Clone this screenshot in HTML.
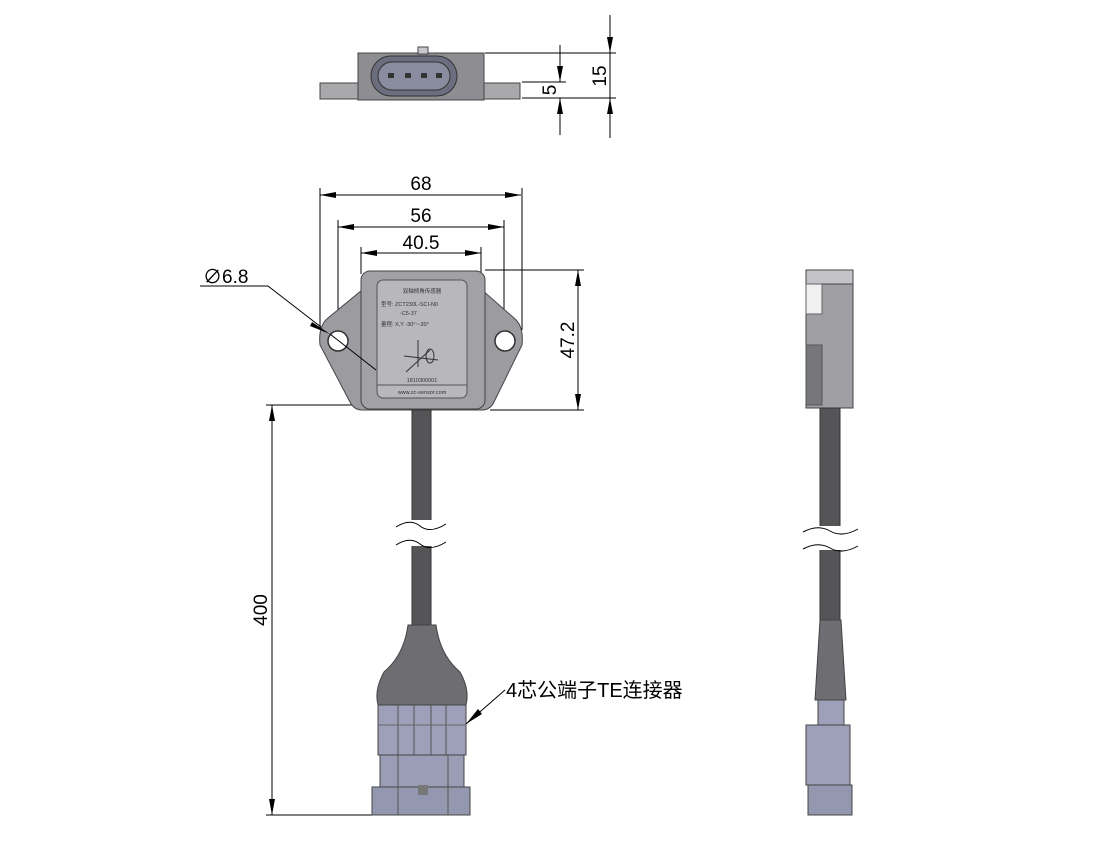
<!DOCTYPE html>
<html><head><meta charset="utf-8"><style>
html,body{margin:0;padding:0;background:#fff;}
svg{display:block;font-family:"Liberation Sans","Noto Sans CJK SC",sans-serif;}
</style></head><body>
<svg width="1100" height="852" viewBox="0 0 1100 852" xmlns="http://www.w3.org/2000/svg">
<defs>
<marker id="b" viewBox="0 0 16 6" refX="16" refY="3" markerWidth="16" markerHeight="6" orient="auto-start-reverse" markerUnits="userSpaceOnUse"><path d="M0,0 L16,3 L0,6 z" fill="#000"/></marker>
</defs>
<g stroke="#000" stroke-width="1" fill="none">
<line x1="485" y1="53" x2="616" y2="53"/>
<line x1="522" y1="98" x2="616" y2="98"/>
<line x1="522" y1="82" x2="566" y2="82"/>
<line x1="610" y1="15" x2="610" y2="53" marker-end="url(#b)"/>
<line x1="610" y1="138" x2="610" y2="98" marker-end="url(#b)"/>
<line x1="610" y1="53" x2="610" y2="98"/>
<line x1="560" y1="45" x2="560" y2="82" marker-end="url(#b)"/>
<line x1="560" y1="135" x2="560" y2="98" marker-end="url(#b)"/>
<line x1="320" y1="188" x2="320" y2="330"/>
<line x1="522" y1="188" x2="522" y2="330"/>
<line x1="338" y1="220" x2="338" y2="325"/>
<line x1="504" y1="220" x2="504" y2="325"/>
<line x1="361" y1="247" x2="361" y2="274"/>
<line x1="481" y1="247" x2="481" y2="274"/>
<line x1="320" y1="195" x2="521" y2="195" marker-start="url(#b)" marker-end="url(#b)"/>
<line x1="338" y1="227" x2="504" y2="227" marker-start="url(#b)" marker-end="url(#b)"/>
<line x1="361" y1="253" x2="481" y2="253" marker-start="url(#b)" marker-end="url(#b)"/>
<line x1="485" y1="270" x2="584" y2="270"/>
<line x1="490" y1="410" x2="584" y2="410"/>
<line x1="578" y1="270" x2="578" y2="410" marker-start="url(#b)" marker-end="url(#b)"/>
<line x1="266" y1="405" x2="360" y2="405"/>
<line x1="266" y1="815" x2="374" y2="815"/>
<line x1="272" y1="405" x2="272" y2="815" marker-start="url(#b)" marker-end="url(#b)"/>
<polyline points="200,286 268,286 330,334"/>
</g>
<rect x="320" y="83" width="200" height="16" fill="#a9a9ab" stroke="#444"/>
<rect x="358" y="53" width="126" height="47" fill="#8e8e92" stroke="#444"/>
<rect x="418" y="47" width="10" height="7" fill="#c8c8cc" stroke="#444"/>
<rect x="371" y="56" width="86" height="40" rx="20" fill="#6c6e80" stroke="#333"/>
<rect x="378" y="62" width="72" height="28" rx="14" fill="#8a8ca0" stroke="#333"/>
<g fill="#333"><rect x="388" y="73" width="6" height="5"/><rect x="405" y="73" width="6" height="5"/><rect x="421" y="73" width="6" height="5"/><rect x="436" y="73" width="6" height="5"/></g>
<path d="M362,290 L328,318 Q318,326 320,345 L350,402 Q354,410 362,410 L482,410 Q490,410 494,402 L522,345 Q524,326 514,318 L482,290 Z" fill="#9b9ba0" stroke="#444"/>
<circle cx="338" cy="341" r="10" fill="#fff" stroke="#333" stroke-width="1.5"/>
<circle cx="505" cy="341" r="10" fill="#fff" stroke="#333" stroke-width="1.5"/>
<rect x="361" y="271" width="124" height="138" rx="9" fill="#a1a1a6" stroke="#444"/>
<rect x="377" y="280" width="90" height="118" rx="6" fill="#b8b8bc" stroke="#555"/>
<line x1="377" y1="385" x2="467" y2="385" stroke="#555"/>
<g font-size="5.5" fill="#333">
<text x="422" y="293" text-anchor="middle">双轴倾角传感器</text>
<text x="381" y="306">型号: ZCT230L-SCI-N0</text>
<text x="400" y="315">-C5-37</text>
<text x="381" y="326">量程: X,Y -30°~-30°</text>
<text x="422" y="382" text-anchor="middle">1810300001</text>
<text x="422" y="394" text-anchor="middle">www.zc-sensor.com</text>
</g>
<g stroke="#333" fill="none" stroke-width="1">
<line x1="418" y1="367" x2="418" y2="340"/><line x1="404" y1="356" x2="438" y2="360"/><line x1="406" y1="372" x2="430" y2="350"/>
<ellipse cx="430" cy="356" rx="4" ry="7"/>
</g>
<line x1="330" y1="334" x2="376" y2="370" stroke="#000"/>
<path d="M312,322 L330,334 L310,326 z" fill="#000"/>
<rect x="412" y="410" width="19" height="218" fill="#555558" stroke="#333"/>
<rect x="404" y="520" width="35" height="26" fill="#fff"/>
<path d="M396,527 Q410,518 420,526 T446,524 M396,545 Q410,536 420,544 T446,542" stroke="#000" fill="none"/>
<path d="M408,625 L436,625 Q440,655 460,672 Q470,690 466,705 L378,705 Q374,690 384,672 Q404,655 408,625 Z" fill="#6e6e72" stroke="#444"/>
<rect x="378" y="705" width="88" height="50" fill="#9da0b8" stroke="#444"/>
<g stroke="#555"><line x1="398" y1="705" x2="398" y2="755"/><line x1="414" y1="705" x2="414" y2="755"/><line x1="431" y1="705" x2="431" y2="755"/><line x1="446" y1="705" x2="446" y2="755"/></g>
<line x1="378" y1="725" x2="466" y2="725" stroke="#666"/>
<rect x="380" y="755" width="84" height="32" fill="#9a9db5" stroke="#444"/>
<rect x="372" y="787" width="98" height="28" fill="#9497b0" stroke="#444"/>
<line x1="398" y1="755" x2="398" y2="815" stroke="#555"/><line x1="448" y1="755" x2="448" y2="815" stroke="#555"/>
<rect x="418" y="785" width="10" height="10" fill="#777"/>
<line x1="505" y1="690" x2="466" y2="724" stroke="#000"/>
<path d="M466,724 L478,709 L482,714 z" fill="#000"/>
<rect x="806" y="270" width="47" height="138" fill="#a0a0a4" stroke="#444"/>
<rect x="806" y="270" width="47" height="14" fill="#c4c4c8" stroke="#444"/>
<rect x="806" y="284" width="16" height="30" fill="#f0f0f0" stroke="#666"/>
<rect x="806" y="345" width="16" height="60" fill="#77777b" stroke="#555"/>
<rect x="820" y="408" width="20" height="212" fill="#555558" stroke="#333"/>
<rect x="812" y="526" width="40" height="24" fill="#fff"/>
<path d="M803,532 Q818,524 830,531 T858,529 M803,549 Q818,541 830,548 T858,546" stroke="#000" fill="none"/>
<path d="M820,620 L841,620 L846,700 L815,700 Z" fill="#6e6e72" stroke="#444"/>
<rect x="818" y="700" width="26" height="25" fill="#9da0b8" stroke="#444"/>
<rect x="806" y="725" width="44" height="60" fill="#9da0b8" stroke="#444"/>
<rect x="808" y="785" width="44" height="30" fill="#9497b0" stroke="#444"/>
<g font-size="19" fill="#000">
<text x="421" y="190" text-anchor="middle">68</text>
<text x="421" y="222" text-anchor="middle">56</text>
<text x="421" y="249" text-anchor="middle">40.5</text>
<text x="203" y="283">∅6.8</text>
<text transform="translate(574,340) rotate(-90)" text-anchor="middle">47.2</text>
<text transform="translate(267,610) rotate(-90)" text-anchor="middle">400</text>
<text transform="translate(606,76) rotate(-90)" text-anchor="middle">15</text>
<text transform="translate(556,90) rotate(-90)" text-anchor="middle">5</text>
<text x="506" y="697" font-size="20">4芯公端子TE连接器</text>
</g>
</svg>
</body></html>
